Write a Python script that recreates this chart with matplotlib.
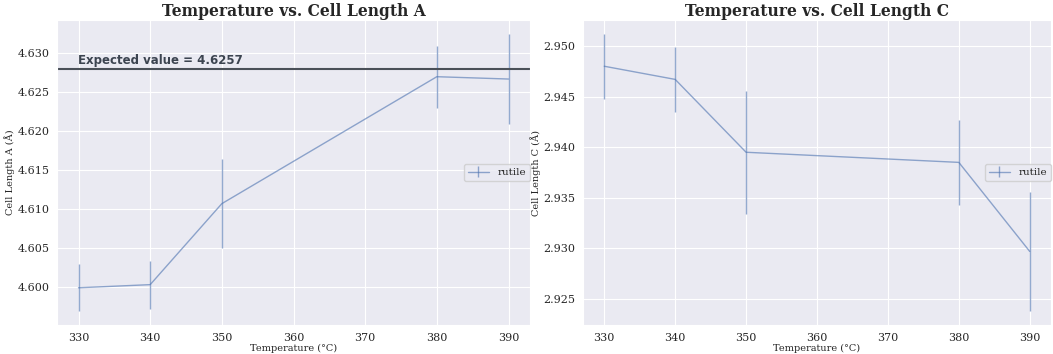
import matplotlib
matplotlib.use('Agg')
import matplotlib.pyplot as plt
import seaborn as sns

temps = [330, 340, 350, 380, 390]

cell_a = [4.5999, 4.6003, 4.6107, 4.6270, 4.6267]
cell_a_err = [0.0030, 0.0031, 0.0057, 0.0040, 0.0058]

cell_c = [2.9480, 2.9467, 2.9395, 2.9385, 2.9297]
cell_c_err = [0.0032, 0.0032, 0.0061, 0.0042, 0.0059]

expected_a = 4.628
expected_label = "Expected value = 4.6257"

sns.set_style('darkgrid', {'grid.linewidth': 0.7})
plt.rcParams['font.family'] = 'serif'
plt.rcParams['font.serif'] = ['DejaVu Serif']

fig = plt.figure(figsize=(10.53, 3.54), dpi=100)
ax1 = fig.add_axes([57 / 1053, 29 / 354, 473 / 1053, 305 / 354])
ax2 = fig.add_axes([583 / 1053, 29 / 354, 468 / 1053, 305 / 354])

line_col = '#4c72b0'

# cell length A
ax1.errorbar(temps, cell_a, yerr=cell_a_err, color=line_col, alpha=0.6, lw=1, label='rutile')
ax1.axhline(expected_a, color='#4a5058', lw=1.5)
ax1.text(330, expected_a + 0.0002, expected_label, family='DejaVu Sans', weight='bold',
         fontsize=8.5, color='#3c4450', va='bottom')
ax1.set_title('Temperature vs. Cell Length A', fontsize=11.2, weight='bold', pad=3)
ax1.set_xlabel('Temperature (°C)', fontsize=7, labelpad=1)
ax1.set_ylabel('Cell Length A (Å)', fontsize=7, labelpad=2)
ax1.tick_params(labelsize=8, pad=2)
ax1.legend(loc='center right', bbox_to_anchor=(1, 0.5), borderaxespad=0, fontsize=7.5)

# cell length C
ax2.errorbar(temps, cell_c, yerr=cell_c_err, color=line_col, alpha=0.6, lw=1, label='rutile')
ax2.set_title('Temperature vs. Cell Length C', fontsize=11.2, weight='bold', pad=3)
ax2.set_xlabel('Temperature (°C)', fontsize=7, labelpad=1)
ax2.set_ylabel('Cell Length C (Å)', fontsize=7, labelpad=2)
ax2.tick_params(labelsize=8, pad=2)
ax2.legend(loc='center right', bbox_to_anchor=(1, 0.5), borderaxespad=0, fontsize=7.5)

fig.savefig('out.png', dpi=100)
